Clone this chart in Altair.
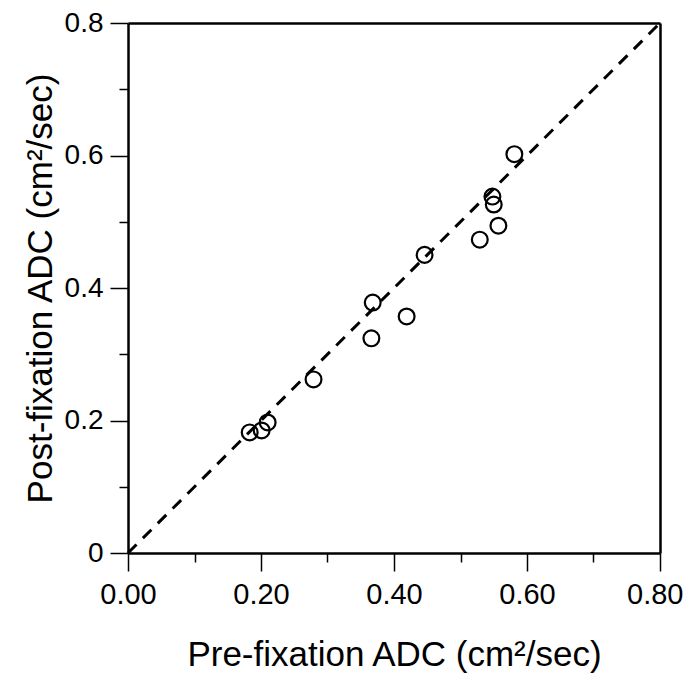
import altair as alt
import pandas as pd

pre_adc = [0.183, 0.201, 0.210, 0.279, 0.366, 0.368, 0.419, 0.446, 0.529, 0.548, 0.550, 0.557, 0.581]
post_adc = [0.182, 0.185, 0.197, 0.262, 0.324, 0.378, 0.357, 0.450, 0.473, 0.538, 0.526, 0.494, 0.602]
identity_x = [0.0, 0.8]
identity_y = [0.0, 0.8]
x_major = [0.0, 0.2, 0.4, 0.6, 0.8]
x_minor = [0.1, 0.3, 0.5, 0.7]
y_major = [0.0, 0.2, 0.4, 0.6, 0.8]
y_minor = [0.1, 0.3, 0.5, 0.7]

FONT = "Liberation Sans"

pts = pd.DataFrame({"pre": pre_adc, "post": post_adc})
line = pd.DataFrame({"pre": identity_x, "post": identity_y})

xscale = alt.Scale(domain=[0, 0.8], nice=False, zero=False)
yscale = alt.Scale(domain=[0, 0.8], nice=False, zero=False)

last_label = "datum.value >= 0.79"

x_axis = alt.Axis(
    values=x_major, format=".2f", grid=False, orient="bottom",
    tickSize=18, tickWidth=1.5, tickColor="black",
    domain=True, domainColor="black", domainWidth=2.5,
    labelFont=FONT, labelFontSize=29, labelColor="black", labelPadding=9,
    labelFlush=False, labelOverlap=False,
    labelAlign={"condition": {"test": last_label, "value": "right"}, "value": "center"},
    labelOffset={"condition": {"test": last_label, "value": 23}, "value": 0},
    title="Pre-fixation ADC (cm²/sec)", titleFont=FONT, titleFontSize=35,
    titleFontWeight="normal", titleColor="black",
    titleX=266, titleY=112, titleBaseline="alphabetic", titleAlign="center",
)
y_axis = alt.Axis(
    values=y_major, grid=False, orient="left",
    labelExpr="datum.value === 0 ? '0' : format(datum.value, '.1f')",
    tickSize=18, tickWidth=1.5, tickColor="black",
    domain=True, domainColor="black", domainWidth=2.5,
    labelFont=FONT, labelFontSize=28, labelColor="black", labelPadding=7,
    labelFlush=False, labelOverlap=False,
    title="Post-fixation ADC (cm²/sec)", titleFont=FONT, titleFontSize=35,
    titleFontWeight="normal", titleColor="black",
    titleX=-77, titleY=265, titleAngle=270, titleBaseline="alphabetic", titleAlign="center",
)
x_minor_axis = alt.Axis(
    values=x_minor, labels=False, grid=False, orient="bottom",
    tickSize=9, tickWidth=1.5, tickColor="black", domain=False, title=None,
)
y_minor_axis = alt.Axis(
    values=y_minor, labels=False, grid=False, orient="left",
    tickSize=9, tickWidth=1.5, tickColor="black", domain=False, title=None,
)
x_top_axis = alt.Axis(
    orient="top", labels=False, ticks=False, grid=False, title=None,
    domain=True, domainColor="black", domainWidth=2.5,
)
y_right_axis = alt.Axis(
    orient="right", labels=False, ticks=False, grid=False, title=None,
    domain=True, domainColor="black", domainWidth=2.5,
)

points = alt.Chart(pts).mark_point(
    shape="circle", filled=False, size=250, stroke="black", strokeWidth=2.2, opacity=1
).encode(
    x=alt.X("pre:Q", scale=xscale, axis=x_axis),
    y=alt.Y("post:Q", scale=yscale, axis=y_axis),
)

dashed = alt.Chart(line).mark_line(
    color="black", strokeWidth=3, strokeDash=[12, 9]
).encode(
    x=alt.X("pre:Q", scale=xscale, axis=x_minor_axis),
    y=alt.Y("post:Q", scale=yscale, axis=y_minor_axis),
)

frame = alt.Chart(line).mark_point(opacity=0).encode(
    x=alt.X("pre:Q", scale=xscale, axis=x_top_axis),
    y=alt.Y("post:Q", scale=yscale, axis=y_right_axis),
)

chart = alt.layer(frame, dashed, points).resolve_axis(
    x="independent", y="independent"
).properties(
    width=532, height=530,
    autosize=alt.AutoSizeParams(type="none"),
    padding={"left": 120, "top": 15, "right": 24, "bottom": 120},
).configure_view(
    stroke="black", strokeWidth=2.5, strokeOpacity=1
).configure(background="white")

chart.save("out.html", embed_options={"renderer": "svg", "actions": False})
